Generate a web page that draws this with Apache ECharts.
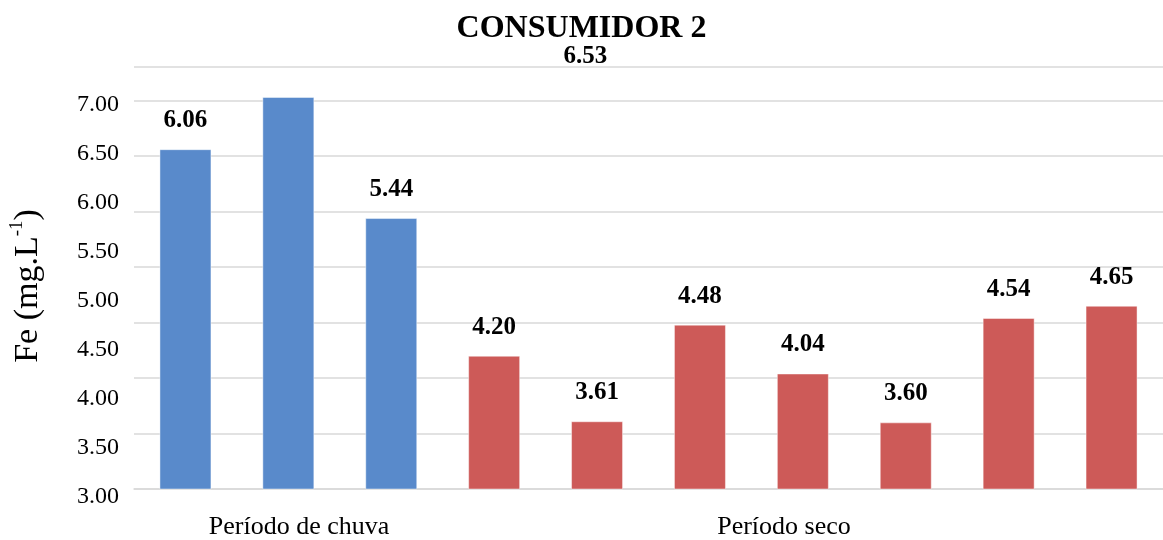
<!DOCTYPE html>
<html>
<head>
<meta charset="utf-8">
<script src="https://cdn.jsdelivr.net/npm/echarts@6/dist/echarts.min.js"></script>
<style>
  html, body { margin: 0; padding: 0; background: #ffffff; }
  #chart { width: 1163px; height: 540px; }
</style>
</head>
<body>
<div id="chart"></div>
<script>
// Fe concentration per sample, grouped by sampling period
const title = 'CONSUMIDOR 2';
const periods = ['Período de chuva', 'Período seco'];
const rainValues = [6.06, 6.53, 5.44];
const dryValues = [4.20, 3.61, 4.48, 4.04, 3.60, 4.54, 4.65];
const tickLabels = ['3.00', '3.50', '4.00', '4.50', '5.00', '5.50', '6.00', '6.50', '7.00'];

const FONT = '"Liberation Serif", "Times New Roman", serif';
const colors = ['#598acb', '#cd5a58'];

const values = rainValues.concat(dryValues);
const groupOf = values.map((v, i) => (i < rainValues.length ? 0 : 1));
const categories = values.map((v, i) => 'A' + (i + 1));

const barData = values.map((v, i) => {
  const item = { value: v, itemStyle: { color: colors[groupOf[i]] } };
  // the label of the tallest rainy-season bar sits beside the title
  if (i === 1) item.label = { offset: [297, -12] };
  return item;
});

const chart = echarts.init(document.getElementById('chart'));
chart.setOption({
  animation: false,
  backgroundColor: '#ffffff',
  title: {
    text: title,
    left: 'center',
    top: 8,
    textStyle: { fontFamily: FONT, fontSize: 32, fontWeight: 'bold', color: '#000000' }
  },
  grid: [
    { left: 131, top: 67, width: 1034, height: 422 },
    { left: 131, top: 105, width: 1034, height: 392 }
  ],
  xAxis: [
    {
      type: 'category',
      gridIndex: 0,
      data: categories,
      axisLine: { show: true, lineStyle: { color: '#d9d9d9', width: 1.5 } },
      axisTick: { show: false },
      axisLabel: { show: false }
    },
    { type: 'category', gridIndex: 1, data: categories, show: false }
  ],
  yAxis: [
    {
      type: 'value',
      gridIndex: 0,
      min: 3,
      max: 6.8,
      interval: 0.5,
      axisLine: { show: false },
      axisTick: { show: false },
      axisLabel: { show: false },
      splitLine: { lineStyle: { color: '#d9d9d9', width: 1.5 } },
      name: '{n|Fe (mg.L}{s|-1}{e|)}',
      nameLocation: 'middle',
      nameRotate: 90,
      nameGap: 86,
      nameTextStyle: {
        rich: {
          n: { fontFamily: FONT, fontSize: 34, color: '#000000', lineHeight: 40 },
          s: { fontFamily: FONT, fontSize: 19, color: '#000000', verticalAlign: 'top', lineHeight: 40, padding: [0, 0, 14, 0] },
          e: { fontFamily: FONT, fontSize: 34, color: '#000000', lineHeight: 40, padding: [0, 16, 0, 0] }
        }
      }
    },
    {
      type: 'value',
      gridIndex: 1,
      min: 3,
      max: 7,
      interval: 0.5,
      axisLine: { show: false },
      axisTick: { show: false },
      splitLine: { show: false },
      axisLabel: {
        margin: 12,
        fontFamily: FONT,
        fontSize: 24,
        color: '#000000',
        formatter: (v) => tickLabels[Math.round((v - 3) / 0.5)] || ''
      }
    }
  ],
  series: [
    {
      type: 'bar',
      xAxisIndex: 0,
      yAxisIndex: 0,
      barWidth: 52,
      data: barData,
      itemStyle: { borderColor: 'rgba(255,255,255,0.45)', borderWidth: 1 },
      label: {
        show: true,
        position: 'top',
        distance: 16,
        fontFamily: FONT,
        fontSize: 25,
        fontWeight: 'bold',
        color: '#000000',
        formatter: (p) => p.value.toFixed(2)
      }
    }
  ],
  graphic: [
    {
      type: 'text',
      x: 299, y: 527,
      style: { text: periods[0], fontFamily: FONT, fontSize: 26, fill: '#000000', textAlign: 'center', textVerticalAlign: 'middle' }
    },
    {
      type: 'text',
      x: 784, y: 527,
      style: { text: periods[1], fontFamily: FONT, fontSize: 26, fill: '#000000', textAlign: 'center', textVerticalAlign: 'middle' }
    }
  ]
});
</script>
</body>
</html>
